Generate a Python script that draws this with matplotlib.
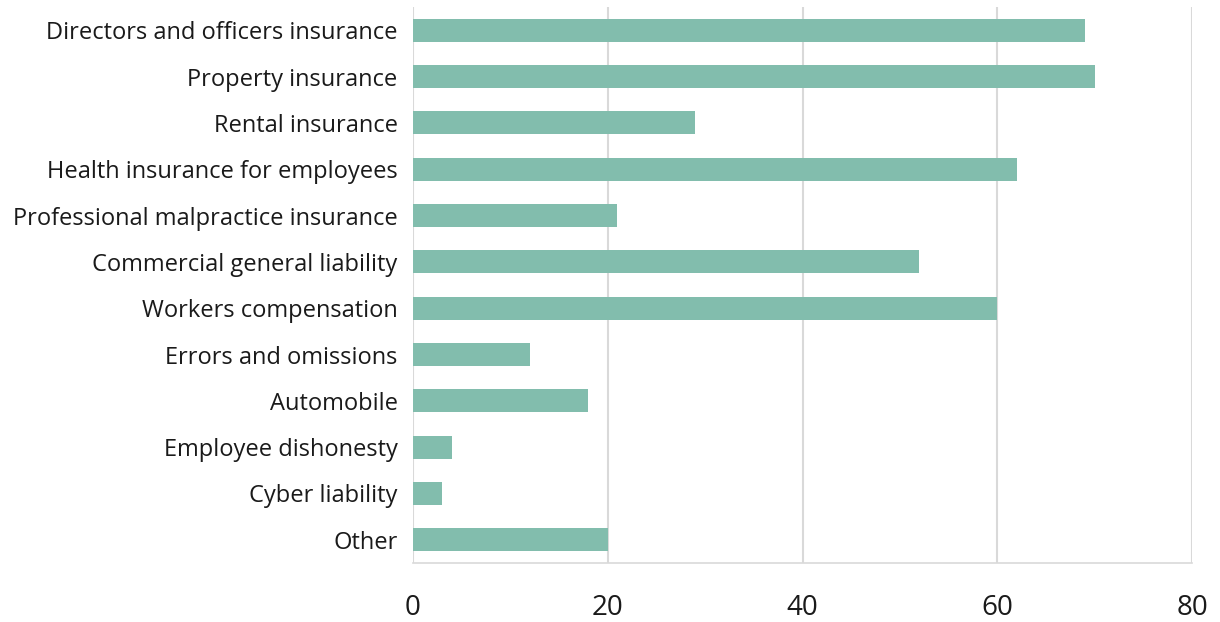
import matplotlib
matplotlib.use("Agg")
import matplotlib.pyplot as plt

# ---------------- Data ----------------
categories = [
    "Directors and officers insurance",
    "Property insurance",
    "Rental insurance",
    "Health insurance for employees",
    "Professional malpractice insurance",
    "Commercial general liability",
    "Workers compensation",
    "Errors and omissions",
    "Automobile",
    "Employee dishonesty",
    "Cyber liability",
    "Other",
]
values = [69, 70, 29, 62, 21, 52, 60, 12, 18, 4, 3, 20]
x_ticks = [0, 20, 40, 60, 80]

bar_color = "#82bdad"
grid_color = "#d9d9d9"

# ---------------- Plot ----------------
fig = plt.figure(figsize=(12.2, 6.22), dpi=100)
ax = fig.add_axes([413 / 1220, 1 - 563 / 622, (1192 - 413) / 1220, (563 - 7) / 622])

pos = list(range(len(categories)))
ax.barh(pos, values, height=0.5, color=bar_color, zorder=3)

ax.set_ylim(len(categories) - 0.5, -0.5)
ax.set_xlim(0, 80)
ax.set_yticks(pos)
ax.set_yticklabels(categories, fontsize=17, family="Open Sans", color="#1a1a1a")
ax.set_xticks(x_ticks)
ax.set_xticklabels([str(t) for t in x_ticks], fontsize=20, family="Open Sans", color="#1a1a1a")

ax.tick_params(axis="y", length=0, pad=11)
ax.tick_params(axis="x", length=0, pad=22)

ax.grid(axis="x", color=grid_color, linewidth=1.5, zorder=0)
for side in ["top", "right", "left"]:
    ax.spines[side].set_visible(False)
ax.spines["bottom"].set_color(grid_color)
ax.spines["bottom"].set_linewidth(1.2)

fig.savefig("out.png", dpi=100)
